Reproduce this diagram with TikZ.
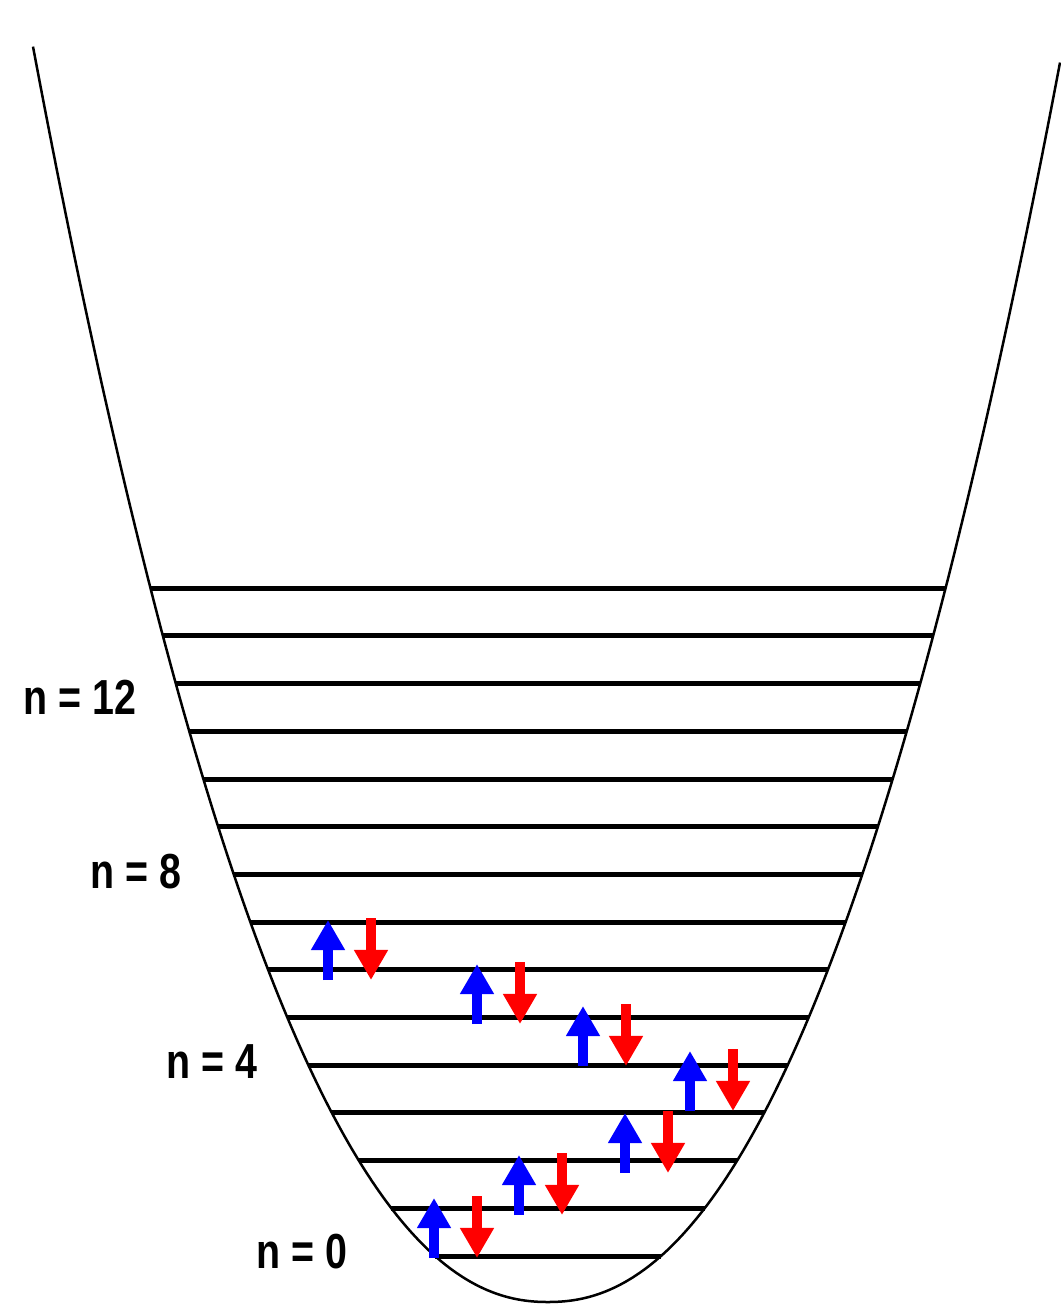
\documentclass[tikz,border=0pt]{standalone}
\usepackage{fontspec}
\newfontfamily\labelfont{Liberation Sans}[FakeStretch=0.8]
\usetikzlibrary{arrows.meta}
\tikzset{>=latex}
\tikzstyle{level} = [line width=0.05cm, draw=black]
\tikzstyle{well} = [line width=0.025cm, draw=black]
\tikzstyle{spinup} = [line width=0.1cm, draw=blue, -{Triangle[length=0.3cm, width=0.32cm]}]
\tikzstyle{spindown} = [line width=0.1cm, draw=red, -{Triangle[length=0.3cm, width=0.32cm]}]
\tikzstyle{nlabel} = [inner sep=0, anchor=east, font=\labelfont\bfseries\fontsize{14}{16}\selectfont]

\begin{document}
\begin{tikzpicture}[x=0.01cm, y=-0.01cm]
\useasboundingbox (0, 0) rectangle (1060, 1304);
\draw [well] plot [domain=-515:512, samples=121, smooth] ({548+\x}, {1302-46*pow(abs(\x)/113+0.0001, 2.18)});

\foreach \n in {0,...,14} {
  \pgfmathsetmacro{\ly}{1256-47.7*\n}
  \pgfmathsetmacro{\dx}{113*pow((1302-\ly)/46, 1/2.18)}
  \draw [level] ({548-\dx}, \ly) -- ({548+\dx}, \ly);
}

\foreach \bx/\by in {328/980, 477/1024, 583/1066, 690/1111, 625/1173, 519/1215, 434/1258} {
  \draw [spinup] (\bx, \by) -- (\bx, \by-60);
  \draw [spindown] (\bx+43, \by-62) -- (\bx+43, \by);
}

\node [nlabel] (n12) at (137, 697) {n = 12};
\node [nlabel] (n8) at (182, 872) {n = 8};
\node [nlabel] (n4) at (258, 1062) {n = 4};
\node [nlabel] (n0) at (348, 1252) {n = 0};
\end{tikzpicture}
\end{document}
